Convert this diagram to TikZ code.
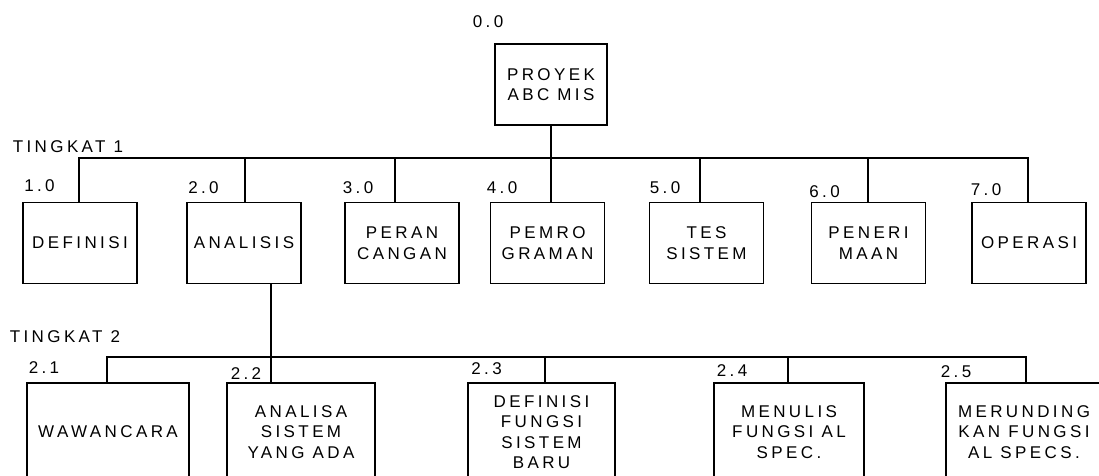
\documentclass[tikz,border=0pt]{standalone}
\usepackage{fontspec}
\setmainfont{Liberation Sans}[LetterSpace=20]
\begin{document}
\begin{tikzpicture}[x=1pt,y=-1pt,
  txt/.style={font=\fontsize{17}{20.5}\selectfont, inner sep=0pt},
  boxa/.style={txt, draw, line width=1.8pt, minimum width=114pt, minimum height=81pt, align=center},
  boxb/.style={txt, draw, line width=1.8pt, minimum height=98pt, align=center},
  link/.style={line width=1.8pt}]
\useasboundingbox (0,0) rectangle (1099,475);
\clip (0,0) rectangle (1099,475);
% root
\node[boxa, minimum width=112pt] (root) at (551,84.5) {PROYEK\\ABC MIS};
\node[txt] (l00) at (488,22) {0.0};
\node[txt] (t1) at (68,147) {TINGKAT 1};
\node[txt] (t2) at (65,337) {TINGKAT 2};
% level 1
\node[boxa] (b1) at (80,243) {DEFINISI};
\node[boxa] (b2) at (244,243) {ANALISIS};
\node[boxa] (b3) at (402,243) {PERAN\\CANGAN};
\node[boxa] (b4) at (547.5,243) {PEMRO\\GRAMAN};
\node[boxa] (b5) at (706.5,243) {TES\\SISTEM};
\node[boxa] (b6) at (868.5,243) {PENERI\\MAAN};
\node[boxa] (b7) at (1029,243) {OPERASI};
\node[txt] (l10) at (39.5,186) {1.0};
\node[txt] (l20) at (203.5,188) {2.0};
\node[txt] (l30) at (358,188) {3.0};
\node[txt] (l40) at (502,188) {4.0};
\node[txt] (l50) at (665,188) {5.0};
\node[txt] (l60) at (824.5,192) {6.0};
\node[txt] (l70) at (986,190) {7.0};
% level 2
\node[boxb, minimum width=162pt] (c1) at (108,432) {WAWANCARA};
\node[boxb, minimum width=148pt] (c2) at (301,432) {ANALISA\\SISTEM\\YANG ADA};
\node[boxb, minimum width=147pt] (c3) at (541.5,432) {DEFINISI\\FUNGSI\\SISTEM\\BARU};
\node[boxb, minimum width=150pt] (c4) at (789,432) {MENULIS\\FUNGSI AL\\SPEC.};
\node[boxb, minimum width=156pt] (c5) at (1024,432) {MERUNDING\\KAN FUNGSI\\AL SPECS.};
\node[txt] (l21) at (44,368) {2.1};
\node[txt] (l22) at (246,374) {2.2};
\node[txt] (l23) at (486.5,369) {2.3};
\node[txt] (l24) at (732,371) {2.4};
\node[txt] (l25) at (956,372) {2.5};
% junctions
\coordinate (j1) at (79,158);
\coordinate (j2) at (245,158);
\coordinate (j3) at (395,158);
\coordinate (j4) at (551,158);
\coordinate (j5) at (700,158);
\coordinate (j6) at (868,158);
\coordinate (j7) at (1028,158);
\coordinate (k1) at (107,357);
\coordinate (k2) at (271,357);
\coordinate (k3) at (545,357);
\coordinate (k4) at (788,357);
\coordinate (k5) at (1026,357);
% connectors level 1
\draw[link] (j1 |- b1.north) -- (j1) -- (j7) -- (j7 |- b7.north);
\draw[link] (root.south) -- (root.south |- j4);
\draw[link] (j2) -- (j2 |- b2.north);
\draw[link] (j3) -- (j3 |- b3.north);
\draw[link] (j4) -- (j4 |- b4.north);
\draw[link] (j5) -- (j5 |- b5.north);
\draw[link] (j6) -- (j6 |- b6.north);
% connectors level 2
\draw[link] (k2 |- b2.south) -- (k2);
\draw[link] (k1 |- c1.north) -- (k1) -- (k5) -- (k5 |- c5.north);
\draw[link] (k2) -- (k2 |- c2.north);
\draw[link] (k3) -- (k3 |- c3.north);
\draw[link] (k4) -- (k4 |- c4.north);
\end{tikzpicture}
\end{document}
